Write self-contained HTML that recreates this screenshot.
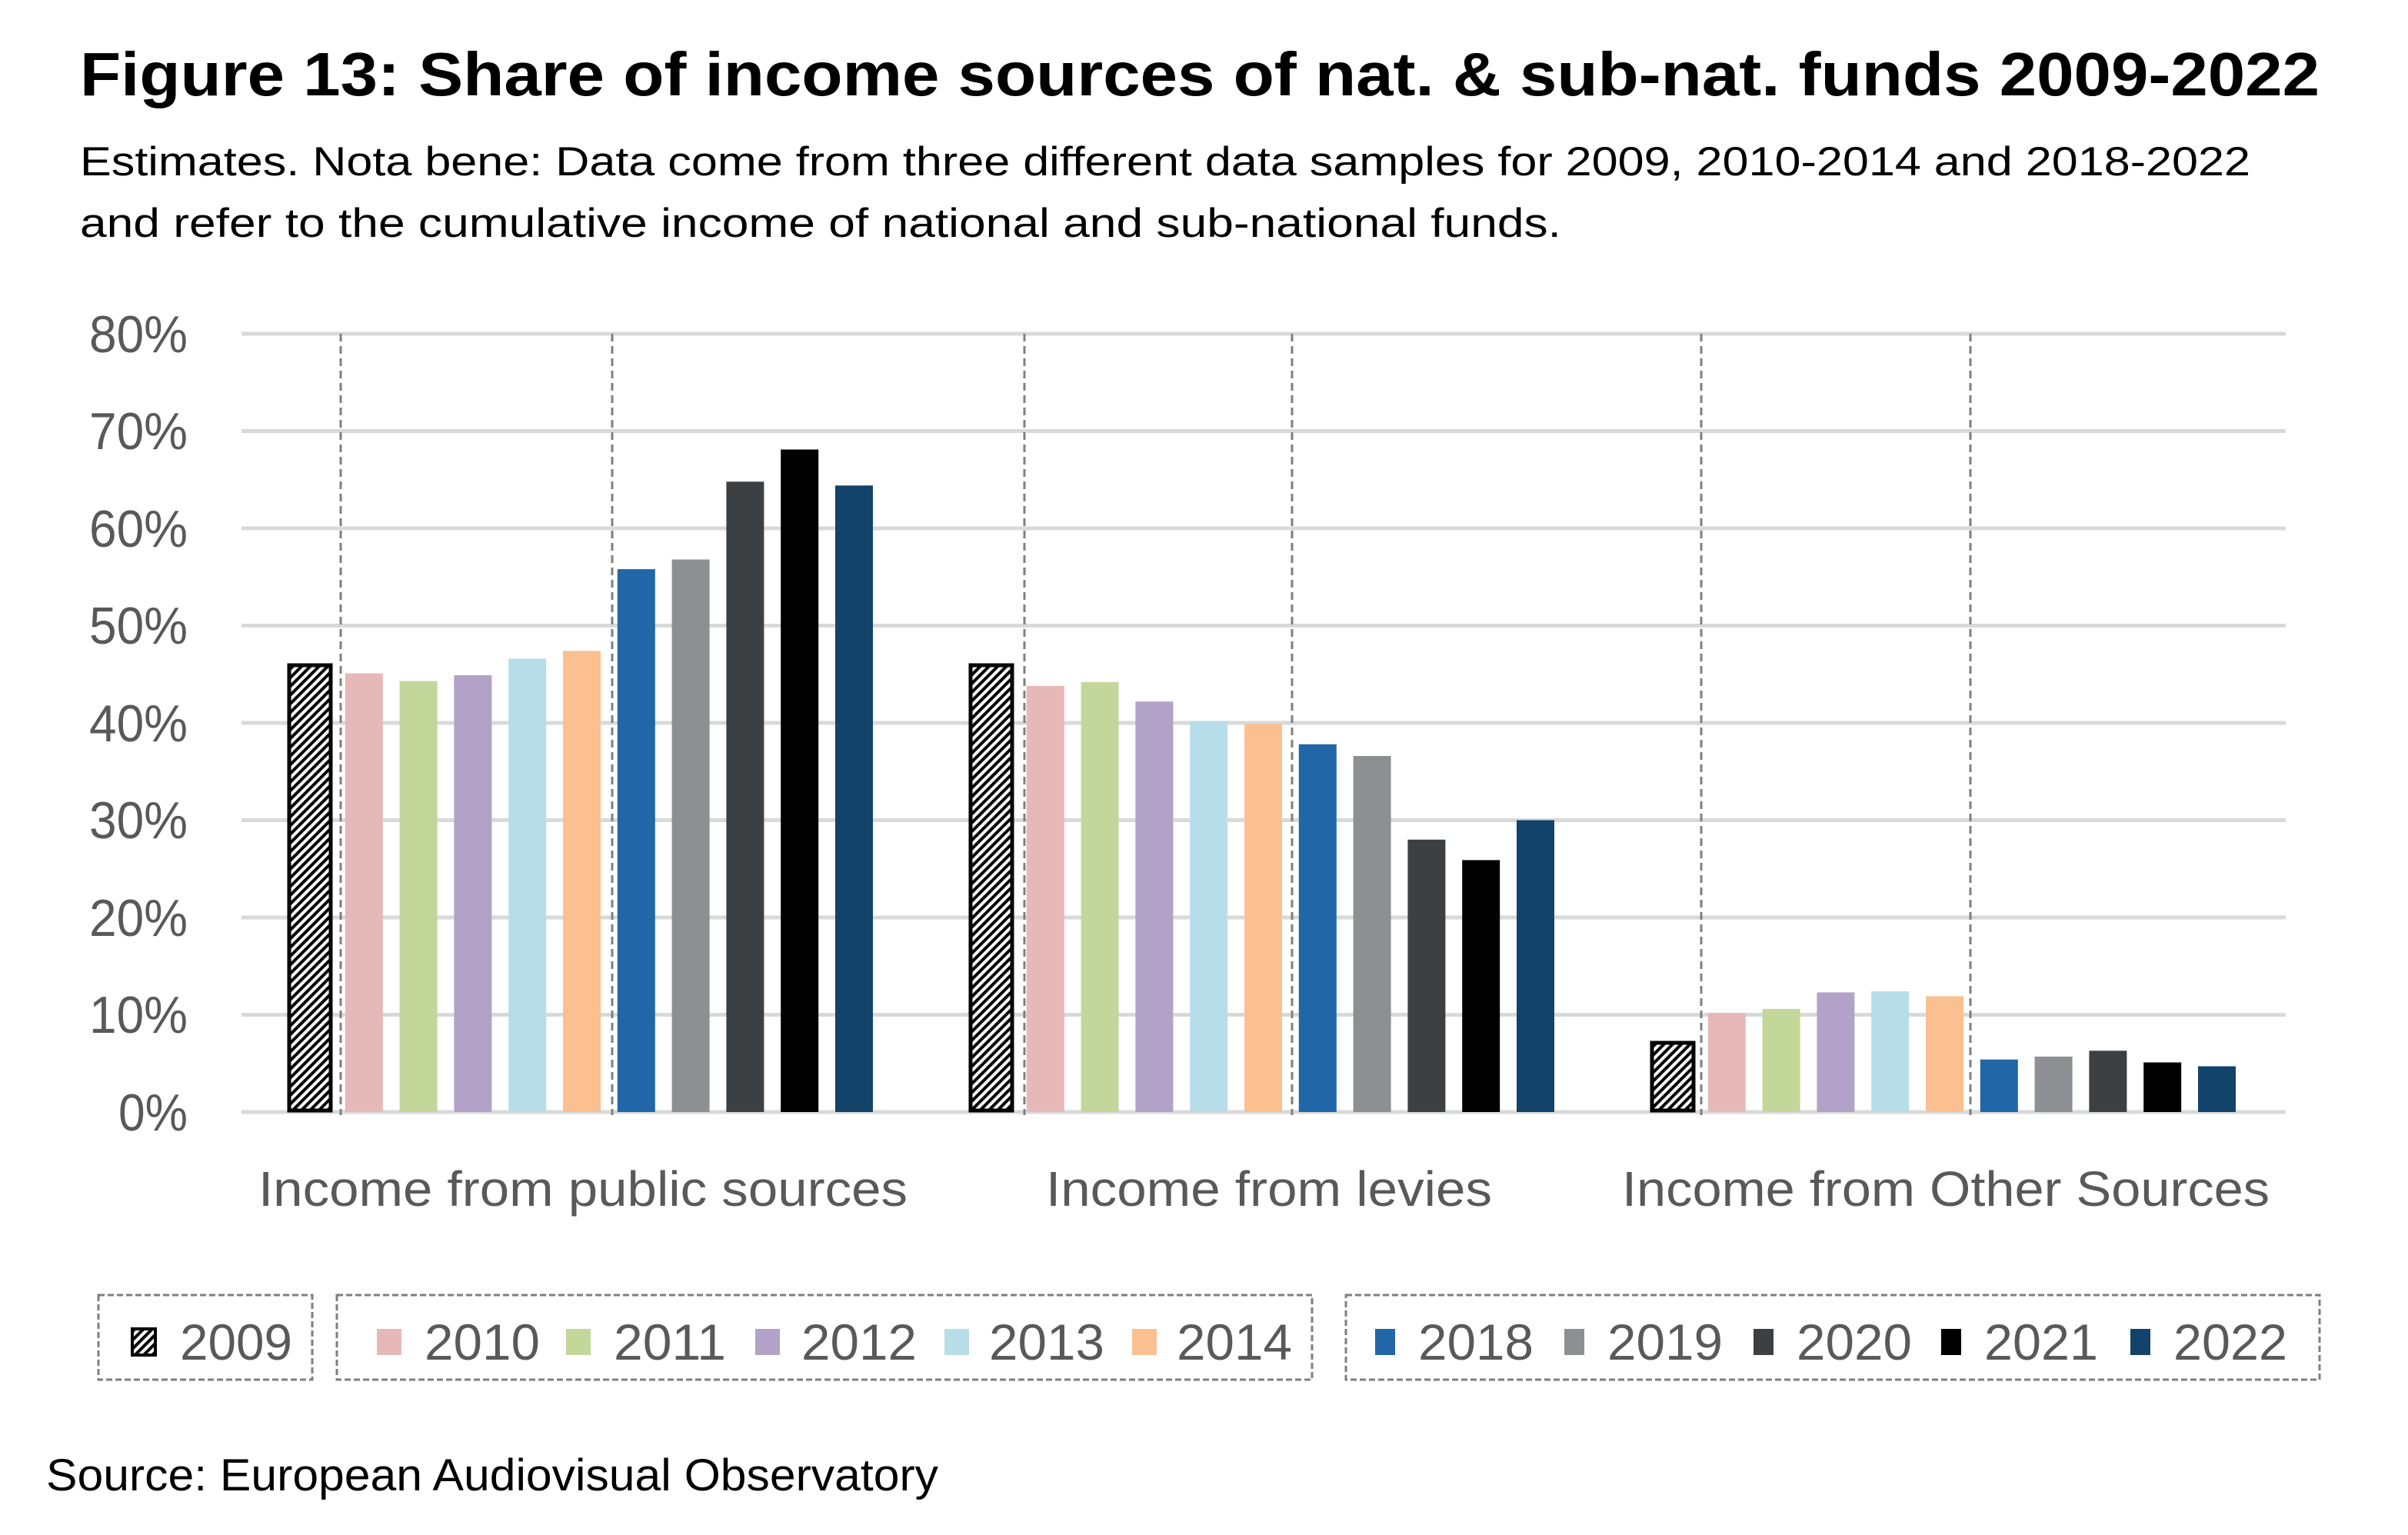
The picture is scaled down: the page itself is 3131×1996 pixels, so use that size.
<!DOCTYPE html>
<html><head><meta charset="utf-8"><style>
html,body{margin:0;padding:0;background:#fff}
svg{display:block}
text{font-family:"Liberation Sans",sans-serif}
</style></head><body>
<svg width="3131" height="1996" viewBox="0 0 3131 1996" xmlns="http://www.w3.org/2000/svg">
<defs>
<pattern id="h" patternUnits="userSpaceOnUse" width="8" height="8" patternTransform="rotate(45)">
<rect width="8" height="8" fill="#fff"/><rect width="4" height="8" fill="#000"/>
</pattern>
</defs>
<text x="104" y="124" font-size="80" font-weight="bold" textLength="2912" lengthAdjust="spacingAndGlyphs">Figure 13: Share of income sources of nat. &amp; sub-nat. funds 2009-2022</text>
<text x="104" y="228" font-size="53" textLength="2822" lengthAdjust="spacingAndGlyphs">Estimates. Nota bene: Data come from three different data samples for 2009, 2010-2014 and 2018-2022</text>
<text x="104" y="308" font-size="53" textLength="1926" lengthAdjust="spacingAndGlyphs">and refer to the cumulative income of national and sub-national funds.</text>
<g stroke="#d9d9d9" stroke-width="5">
<line x1="314" x2="2972" y1="434" y2="434"/><line x1="314" x2="2972" y1="560.5" y2="560.5"/>
<line x1="314" x2="2972" y1="687" y2="687"/><line x1="314" x2="2972" y1="813.5" y2="813.5"/>
<line x1="314" x2="2972" y1="940" y2="940"/><line x1="314" x2="2972" y1="1066.5" y2="1066.5"/>
<line x1="314" x2="2972" y1="1193" y2="1193"/><line x1="314" x2="2972" y1="1319.5" y2="1319.5"/>
<line x1="314" x2="2972" y1="1446" y2="1446"/>
</g>
<g font-size="68" fill="#595959" text-anchor="end">
<text x="244" y="458" textLength="128" lengthAdjust="spacingAndGlyphs">80%</text><text x="244" y="584" textLength="128" lengthAdjust="spacingAndGlyphs">70%</text><text x="244" y="711" textLength="128" lengthAdjust="spacingAndGlyphs">60%</text>
<text x="244" y="837" textLength="128" lengthAdjust="spacingAndGlyphs">50%</text><text x="244" y="964" textLength="128" lengthAdjust="spacingAndGlyphs">40%</text><text x="244" y="1090" textLength="128" lengthAdjust="spacingAndGlyphs">30%</text>
<text x="244" y="1217" textLength="128" lengthAdjust="spacingAndGlyphs">20%</text><text x="244" y="1343" textLength="128" lengthAdjust="spacingAndGlyphs">10%</text><text x="244" y="1470" textLength="90" lengthAdjust="spacingAndGlyphs">0%</text>
</g>
<g stroke="#7f7f7f" stroke-width="3" stroke-dasharray="10,6">
<line x1="443" x2="443" y1="434" y2="1450"/><line x1="796" x2="796" y1="434" y2="1450"/>
<line x1="1332" x2="1332" y1="434" y2="1450"/><line x1="1680" x2="1680" y1="434" y2="1450"/>
<line x1="2212" x2="2212" y1="434" y2="1450"/><line x1="2562" x2="2562" y1="434" y2="1450"/>
</g>
<g transform="translate(0,1446) scale(1,-1)">
<rect x="448.8" y="0" width="49" height="570.5" fill="#e6b9b8"/>
<rect x="519.6" y="0" width="49" height="560.4" fill="#c4d79b"/>
<rect x="590.4" y="0" width="49" height="568.0" fill="#b3a2c7"/>
<rect x="661.2" y="0" width="49" height="589.5" fill="#b7dee8"/>
<rect x="732" y="0" width="49" height="599.6" fill="#fac090"/>
<rect x="802.8" y="0" width="49" height="705.9" fill="#2166a6"/>
<rect x="873.6" y="0" width="49" height="718.5" fill="#8e8f93"/>
<rect x="944.4" y="0" width="49" height="819.7" fill="#3c4043"/>
<rect x="1015.2" y="0" width="49" height="861.5" fill="#000"/>
<rect x="1086" y="0" width="49" height="814.7" fill="#12436b"/>

<rect x="1334.8" y="0" width="49" height="554.1" fill="#e6b9b8"/>
<rect x="1405.6" y="0" width="49" height="559.1" fill="#c4d79b"/>
<rect x="1476.4" y="0" width="49" height="533.8" fill="#b3a2c7"/>
<rect x="1547.2" y="0" width="49" height="508.5" fill="#b7dee8"/>
<rect x="1618" y="0" width="49" height="504.7" fill="#fac090"/>
<rect x="1688.8" y="0" width="49" height="478.2" fill="#2166a6"/>
<rect x="1759.6" y="0" width="49" height="463.0" fill="#8e8f93"/>
<rect x="1830.4" y="0" width="49" height="354.2" fill="#3c4043"/>
<rect x="1901.2" y="0" width="49" height="327.6" fill="#000"/>
<rect x="1972" y="0" width="49" height="379.5" fill="#12436b"/>

<rect x="2220.8" y="0" width="49" height="129.0" fill="#e6b9b8"/>
<rect x="2291.6" y="0" width="49" height="134.1" fill="#c4d79b"/>
<rect x="2362.4" y="0" width="49" height="155.6" fill="#b3a2c7"/>
<rect x="2433.2" y="0" width="49" height="156.9" fill="#b7dee8"/>
<rect x="2504" y="0" width="49" height="150.5" fill="#fac090"/>
<rect x="2574.8" y="0" width="49" height="68.3" fill="#2166a6"/>
<rect x="2645.6" y="0" width="49" height="72.1" fill="#8e8f93"/>
<rect x="2716.4" y="0" width="49" height="79.7" fill="#3c4043"/>
<rect x="2787.2" y="0" width="49" height="64.5" fill="#000"/>
<rect x="2858" y="0" width="49" height="59.5" fill="#12436b"/>
</g>
<rect x="376" y="865" width="54" height="579" fill="url(#h)" stroke="#000" stroke-width="5"/>
<rect x="1262" y="865" width="54" height="579" fill="url(#h)" stroke="#000" stroke-width="5"/>
<rect x="2148" y="1356" width="54" height="88" fill="url(#h)" stroke="#000" stroke-width="5"/>
<g font-size="64" fill="#595959" text-anchor="middle">
<text x="758" y="1568" textLength="844" lengthAdjust="spacingAndGlyphs">Income from public sources</text>
<text x="1650" y="1568" textLength="580" lengthAdjust="spacingAndGlyphs">Income from levies</text>
<text x="2530" y="1568" textLength="842" lengthAdjust="spacingAndGlyphs">Income from Other Sources</text>
</g>
<g fill="none" stroke="#7f7f7f" stroke-width="3" stroke-dasharray="8,4">
<rect x="128" y="1684" width="278" height="110"/>
<rect x="438" y="1684" width="1268" height="110"/>
<rect x="1750" y="1684" width="1266" height="110"/>
</g>
<g font-size="66" fill="#595959">
<rect x="172" y="1728" width="30" height="34" fill="url(#h)" stroke="#000" stroke-width="4"/>
<text x="234" y="1768" textLength="146" lengthAdjust="spacingAndGlyphs">2009</text>
<rect x="490" y="1728" width="32" height="34" fill="#e6b9b8"/><text x="552" y="1768" textLength="150" lengthAdjust="spacingAndGlyphs">2010</text>
<rect x="736" y="1728" width="32" height="34" fill="#c4d79b"/><text x="798" y="1768" textLength="146" lengthAdjust="spacingAndGlyphs">2011</text>
<rect x="982" y="1728" width="32" height="34" fill="#b3a2c7"/><text x="1042" y="1768" textLength="150" lengthAdjust="spacingAndGlyphs">2012</text>
<rect x="1228" y="1728" width="32" height="34" fill="#b7dee8"/><text x="1286" y="1768" textLength="150" lengthAdjust="spacingAndGlyphs">2013</text>
<rect x="1472" y="1728" width="32" height="34" fill="#fac090"/><text x="1530" y="1768" textLength="150" lengthAdjust="spacingAndGlyphs">2014</text>
<rect x="1788" y="1728" width="26" height="34" fill="#2166a6"/><text x="1844" y="1768" textLength="150" lengthAdjust="spacingAndGlyphs">2018</text>
<rect x="2034" y="1728" width="26" height="34" fill="#8e8f93"/><text x="2090" y="1768" textLength="150" lengthAdjust="spacingAndGlyphs">2019</text>
<rect x="2280" y="1728" width="26" height="34" fill="#3c4043"/><text x="2336" y="1768" textLength="150" lengthAdjust="spacingAndGlyphs">2020</text>
<rect x="2524" y="1728" width="26" height="34" fill="#000"/><text x="2580" y="1768" textLength="148" lengthAdjust="spacingAndGlyphs">2021</text>
<rect x="2770" y="1728" width="26" height="34" fill="#12436b"/><text x="2826" y="1768" textLength="148" lengthAdjust="spacingAndGlyphs">2022</text>
</g>
<text x="60" y="1938" font-size="58" fill="#000" textLength="1160" lengthAdjust="spacingAndGlyphs">Source: European Audiovisual Observatory</text>
</svg>
</body></html>
